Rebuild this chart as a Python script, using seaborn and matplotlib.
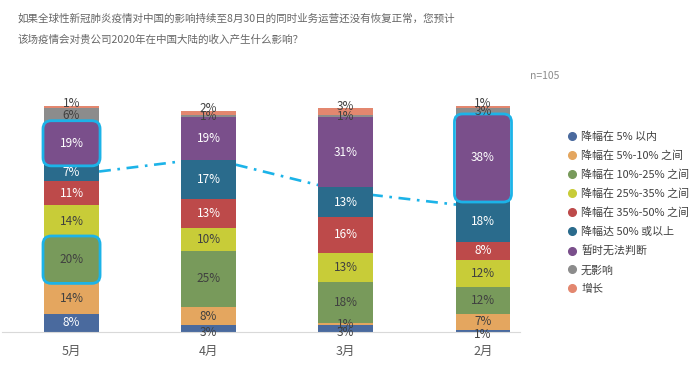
import matplotlib.pyplot as plt
import numpy as np
import seaborn as sns
from matplotlib.lines import Line2D
from matplotlib.patches import FancyBboxPatch

# Data (percent of respondents, bottom to top)
months = ["5月", "4月", "3月", "2月"]
categories = ["降幅在 5% 以内", "降幅在 5%-10% 之间", "降幅在 10%-25% 之间",
              "降幅在 25%-35% 之间", "降幅在 35%-50% 之间", "降幅达 50% 或以上",
              "暂时无法判断", "无影响", "增长"]
values = {
    "降幅在 5% 以内":      [8, 3, 3, 1],
    "降幅在 5%-10% 之间":  [14, 8, 1, 7],
    "降幅在 10%-25% 之间": [20, 25, 18, 12],
    "降幅在 25%-35% 之间": [14, 10, 13, 12],
    "降幅在 35%-50% 之间": [11, 13, 16, 8],
    "降幅达 50% 或以上":   [7, 17, 13, 18],
    "暂时无法判断":        [19, 19, 31, 38],
    "无影响":              [6, 1, 1, 3],
    "增长":                [1, 2, 3, 1],
}
trend = [69.5, 77, 62, 55]  # dash-dot guide line between bars
highlights = [(0, "暂时无法判断"), (0, "降幅在 10%-25% 之间"), (3, "暂时无法判断")]

colors = ["#4a6a9e", "#e4a65f", "#789a5b", "#c8cc38", "#bd4a4a",
          "#2a6b8c", "#7a4f8b", "#8c8c8c", "#e3876f"]
light_text = {"降幅在 5%-10% 之间", "降幅在 10%-25% 之间", "降幅在 25%-35% 之间",
              "无影响", "增长"}
cyan = "#1cb3e8"

sns.set_style("white")
plt.rcParams["font.family"] = ["Noto Sans CJK SC", "DejaVu Sans"]

fig = plt.figure(figsize=(7, 3.65), dpi=100)
ax = fig.add_axes([2 / 700, 1 - 332 / 365, 518 / 700, 226 / 365])

bar_w = 0.4
bottom = np.zeros(len(months))
cum = {}
for cat, col in zip(categories, colors):
    vals = np.array(values[cat], dtype=float)
    sns.barplot(x=months, y=vals, bottom=bottom, color=col, width=bar_w,
                saturation=1, errorbar=None, linewidth=0, ax=ax, zorder=2)
    cum[cat] = (bottom.copy(), bottom + vals)
    bottom = bottom + vals

ax.set_xlim(-0.507, 3.27)
ax.set_ylim(0, 100)

# guide line (hidden behind bars)
ax.plot(range(len(months)), trend, color=cyan, lw=1.9, zorder=1,
        dashes=(4.5, 2.5, 1, 2.5))

# segment labels
for cat in categories:
    lo, hi = cum[cat]
    for i, v in enumerate(values[cat]):
        y = (lo[i] + hi[i]) / 2
        if cat == "增长":
            y = hi[i] + 1
        elif cat == "降幅在 5% 以内" and v < 5:
            y = v / 2 - 1.5
        tc = "#404040" if (cat in light_text or v < 5) else "white"
        ax.text(i, y, f"{v}%", ha="center", va="center", fontsize=8.5,
                color=tc, zorder=5)

# highlight boxes
aspect = (137 / 1.0) / (226 / 100)
for i, cat in highlights:
    lo, hi = cum[cat]
    box = FancyBboxPatch((i - bar_w / 2, lo[i]), bar_w, hi[i] - lo[i],
                         boxstyle="round,pad=0.008,rounding_size=0.06",
                         mutation_aspect=aspect, fill=False, ec=cyan, lw=2,
                         zorder=4)
    ax.add_patch(box)

sns.despine(ax=ax, left=True, top=True, right=True)
ax.spines["bottom"].set_color("#d9d9d9")
ax.set_yticks([])
ax.tick_params(axis="x", length=0, pad=9, labelsize=9, labelcolor="#595959")

fig.text(0.025, 1 - 19 / 365, "如果全球性新冠肺炎疫情对中国的影响持续至8月30日的同时业务运营还没有恢复正常，您预计",
         fontsize=7.6, color="#666666", va="center")
fig.text(0.025, 1 - 40 / 365, "该场疫情会对贵公司2020年在中国大陆的收入产生什么影响？",
         fontsize=7.6, color="#666666", va="center")
fig.text(530 / 700, 1 - 76 / 365, "n=105", fontsize=7.5, color="#8c8c8c", va="center")

handles = [Line2D([], [], ls="none", marker="o", ms=5.5, mfc=c, mec=c)
           for c in colors]
fig.legend(handles, categories, loc="upper left", bbox_to_anchor=(569 / 700, 1 - 131 / 365),
           frameon=False, fontsize=7.9, handlelength=0.6, handletextpad=0.5,
           labelspacing=0.78, borderpad=0, borderaxespad=0, labelcolor="#404040")

fig.savefig("out.png", dpi=100)
